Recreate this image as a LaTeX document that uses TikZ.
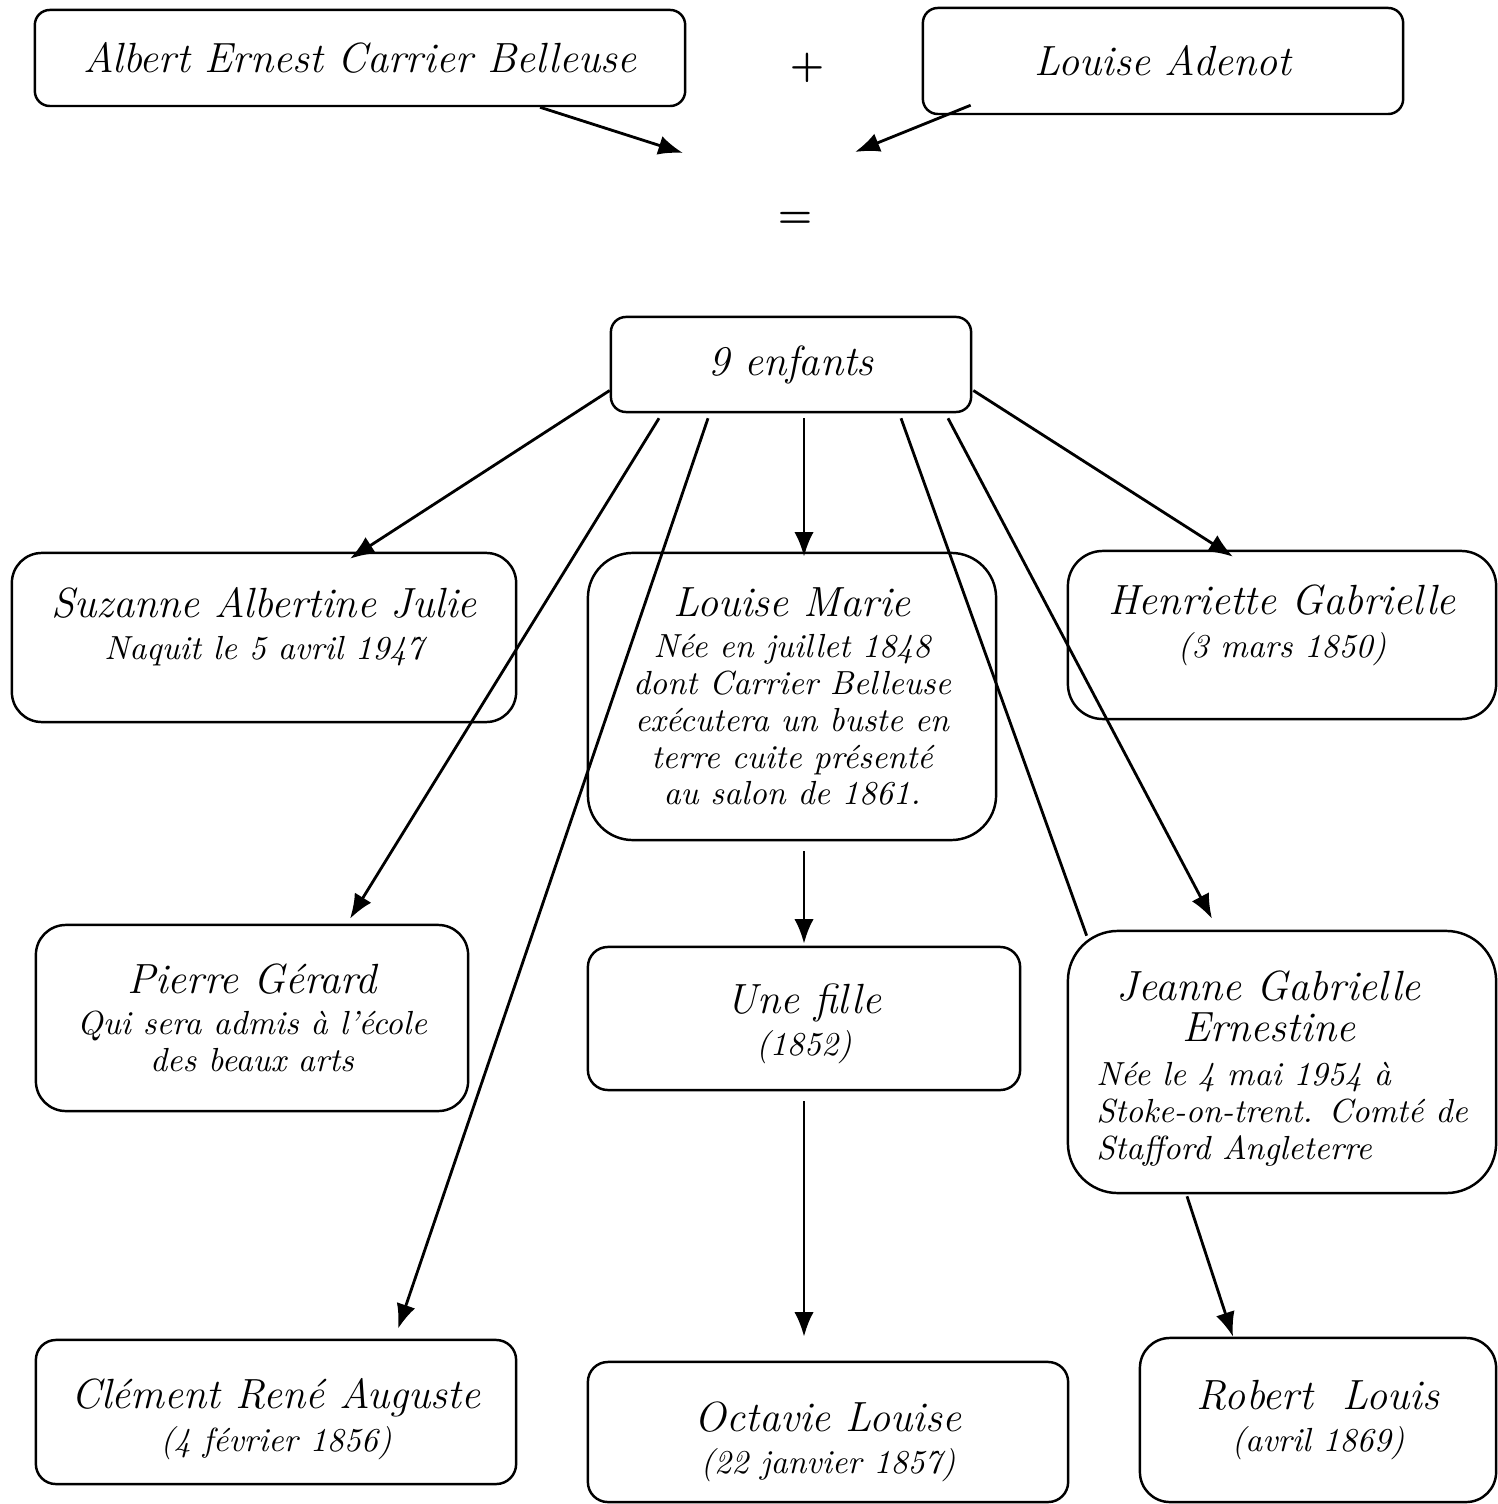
\documentclass[tikz,border=0pt]{standalone}
\usepackage{tikz}
\usepackage{amsmath,amssymb}
\usetikzlibrary{arrows.meta}

\newcommand{\nom}[1]{{\fontsize{12}{14}\selectfont #1}}

\begin{document}
\begin{tikzpicture}[x=0.01cm, y=-0.01cm,
		membre/.style={draw, line width=0.7pt, rounded corners=0.15cm, inner sep=0pt, align=center, font={\fontsize{9.5}{10.5}\selectfont\itshape}},
		signe/.style={font={\fontsize{10.5}{12}\selectfont\boldmath}},
		lien/.style={-{Latex[length=7pt,width=5.5pt]}, line width=0.8pt}]
					\useasboundingbox (0,0) rectangle (1498,1504);
					\node[signe] (plus) at (807,68) {$+$};
					\node[membre, minimum width=6.50cm, minimum height=0.96cm] (albert) at (360,58) {\nom{Albert Ernest Carrier Belleuse}};
					\node[membre, minimum width=4.80cm, minimum height=1.06cm] (adenot) at (1163,61) {\nom{Louise Adenot}};
					\coordinate (versA) at (683,153);
					\coordinate (versB) at (855,152);
					\node[signe] (egal) at (795,220) {$=$};
					\node[membre, minimum width=3.60cm, minimum height=0.95cm] (enfants) at (791,364.5) {\nom{9 enfants}};
					\node[membre, rounded corners=0.3cm, minimum width=5.04cm, minimum height=1.69cm] (suzanne) at (264,637.5) {\nom{Suzanne Albertine Julie}\\[1.7pt] Naquit le 5 avril 1947\rule[-8pt]{0pt}{0pt}};
					\node[membre, rounded corners=0.45cm, minimum width=4.08cm, minimum height=2.87cm] (louisemarie) at (792,696.5) {\nom{Louise Marie}\\[1.2pt] Née en juillet 1848\\ dont Carrier Belleuse\\ exécutera un buste en\\ terre cuite présenté\\ au salon de 1861.};
					\node[membre, rounded corners=0.35cm, minimum width=4.28cm, minimum height=1.68cm] (henriette) at (1282,635) {\nom{Henriette Gabrielle}\\[1.7pt] (3 mars 1850)\rule[-8pt]{0pt}{0pt}};
					\node[membre, rounded corners=0.3cm, minimum width=4.32cm, minimum height=1.86cm] (pierre) at (252,1018) {\nom{Pierre Gérard}\\[1.2pt] Qui sera admis à l'école\\ des beaux arts};
					\node[membre, rounded corners=0.2cm, minimum width=4.32cm, minimum height=1.43cm] (unefille) at (804,1018.5) {\rule{0pt}{11.5pt}\nom{Une fille}\\[1.2pt] (1852)};
					\node[membre, rounded corners=0.5cm, minimum width=4.28cm, minimum height=2.62cm, align=left] (jeanne) at (1282,1062) {\rule{0pt}{12pt}\makebox[3.45cm]{\nom{Jeanne Gabrielle}}\\[1.2pt] \makebox[3.45cm]{\nom{Ernestine}}\\[2pt] Née le 4 mai 1954 à\\ Stoke-on-trent. Comté de\\ Stafford Angleterre};
					\node[membre, rounded corners=0.2cm, minimum width=4.80cm, minimum height=1.44cm] (clement) at (276,1412) {\rule{0pt}{12.5pt}\nom{Clément René Auguste}\\[1.7pt] (4 février 1856)};
					\node[membre, rounded corners=0.2cm, minimum width=4.80cm, minimum height=1.40cm] (octavie) at (828,1432) {\rule{0pt}{14pt}\nom{Octavie Louise}\\[1.7pt] (22 janvier 1857)};
					\node[membre, rounded corners=0.3cm, minimum width=3.56cm, minimum height=1.64cm] (robert) at (1318,1420) {\nom{Robert\ \ Louis}\\[1.7pt] (avril 1869)};
					\draw[lien] ([shift={(180,0)}]albert.south) -- (versA);
					\draw[lien] ([shift={(49,-10)}]adenot.south west) -- (versB);
					\draw[lien] ([shift={(0,26)}]enfants.west) -- ([shift={(86,7)}]suzanne.north);
					\draw[lien] ([shift={(-132,5)}]enfants.south) -- ([shift={(98,-5)}]pierre.north);
					\draw[lien] ([shift={(-83,5)}]enfants.south) -- ([shift={(122,-10)}]clement.north);
					\draw[lien] ([shift={(13,5)}]enfants.south) -- ([shift={(12,5)}]louisemarie.north);
					\draw[line width=0.8pt] ([shift={(110,5)}]enfants.south) -- ([shift={(20,6)}]jeanne.north west);
					\draw[lien] ([shift={(157,5)}]enfants.south) -- ([shift={(-70,-11)}]jeanne.north);
					\draw[lien] ([shift={(1,26)}]enfants.east) -- ([shift={(-49,7)}]henriette.north);
					\draw[lien] ([shift={(12,10)}]louisemarie.south) -- ([shift={(0,-2)}]unefille.north);
					\draw[lien] ([shift={(0,10)}]unefille.south) -- ([shift={(-24,-24)}]octavie.north);
					\draw[lien] ([shift={(-95,2)}]jeanne.south) -- ([shift={(-85,0)}]robert.north);
				\end{tikzpicture}
\end{document}
